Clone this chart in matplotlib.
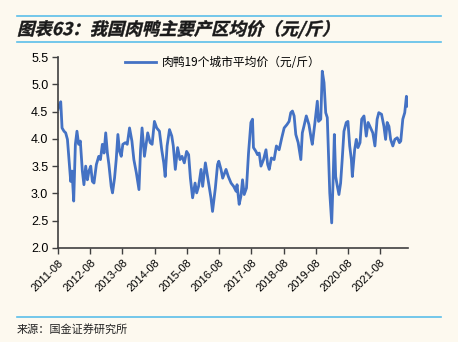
import numpy as np
import pandas as pd
import matplotlib
matplotlib.use('Agg')
import matplotlib.pyplot as plt
import matplotlib.dates as mdates
from matplotlib.textpath import TextPath
from matplotlib.patches import PathPatch
from matplotlib.font_manager import FontProperties
from matplotlib.transforms import Affine2D

plt.rcParams['font.family'] = ['Liberation Sans', 'Noto Sans CJK SC', 'DejaVu Sans']

# 肉鸭19个城市平均价 (元/斤)
dates = ['2011-08-01', '2011-08-09', '2011-09-01', '2011-09-16', '2011-10-08', '2011-10-27',
         '2011-11-16', '2011-12-11', '2011-12-23', '2012-01-07', '2012-01-26', '2012-02-14',
         '2012-03-03', '2012-03-22', '2012-04-10', '2012-05-03', '2012-05-21', '2012-06-10',
         '2012-06-29', '2012-07-17', '2012-08-06', '2012-08-25', '2012-09-12', '2012-10-09',
         '2012-11-05', '2012-11-24', '2012-12-16', '2013-01-04', '2013-01-23', '2013-02-11',
         '2013-02-28', '2013-03-26', '2013-04-10', '2013-05-03', '2013-05-22', '2013-06-10',
         '2013-06-29', '2013-07-18', '2013-08-05', '2013-09-02', '2013-09-24', '2013-10-20',
         '2013-11-16', '2013-12-08', '2014-01-05', '2014-02-04', '2014-02-22', '2014-03-11',
         '2014-04-07', '2014-04-26', '2014-05-14', '2014-06-11', '2014-07-03', '2014-07-29',
         '2014-08-24', '2014-09-24', '2014-10-20', '2014-11-12', '2014-11-28', '2014-12-20',
         '2015-01-16', '2015-02-11', '2015-02-28', '2015-03-23', '2015-04-18', '2015-05-15',
         '2015-06-07', '2015-07-03', '2015-07-29', '2015-08-21', '2015-09-10', '2015-10-05',
         '2015-11-02', '2015-11-20', '2015-12-12', '2016-01-09', '2016-01-27', '2016-02-27',
         '2016-03-23', '2016-04-12', '2016-04-30', '2016-05-18', '2016-06-19', '2016-07-14',
         '2016-07-28', '2016-08-22', '2016-09-10', '2016-10-18', '2016-11-13', '2016-12-14',
         '2017-01-12', '2017-02-09', '2017-02-20', '2017-03-16', '2017-04-05', '2017-04-23',
         '2017-05-12', '2017-06-07', '2017-06-30', '2017-07-27', '2017-08-14', '2017-08-25',
         '2017-09-22', '2017-10-10', '2017-10-29', '2017-11-18', '2017-12-17', '2018-01-14',
         '2018-02-02', '2018-02-20', '2018-03-16', '2018-04-16', '2018-05-12', '2018-06-12',
         '2018-07-12', '2018-08-08', '2018-09-08', '2018-10-03', '2018-10-22', '2018-11-10',
         '2018-11-29', '2018-12-18', '2019-01-14', '2019-02-13', '2019-03-02', '2019-03-20',
         '2019-04-16', '2019-05-16', '2019-06-12', '2019-06-23', '2019-07-23', '2019-08-19',
         '2019-09-02', '2019-09-27', '2019-10-14', '2019-11-03', '2019-11-22', '2019-12-10',
         '2019-12-29', '2020-01-07', '2020-01-29', '2020-02-13', '2020-02-28', '2020-03-14',
         '2020-04-02', '2020-04-20', '2020-05-09', '2020-05-27', '2020-06-16', '2020-07-12',
         '2020-07-31', '2020-08-20', '2020-09-08', '2020-09-19', '2020-10-15', '2020-11-03',
         '2020-11-22', '2020-12-15', '2021-01-03', '2021-01-29', '2021-02-24', '2021-03-17',
         '2021-04-14', '2021-05-09', '2021-06-02', '2021-06-27', '2021-07-16', '2021-08-16',
         '2021-09-12', '2021-10-01', '2021-10-19', '2021-11-08', '2021-11-27', '2021-12-22',
         '2022-01-14', '2022-02-10', '2022-03-07', '2022-03-22', '2022-04-14', '2022-05-06',
         '2022-05-25', '2022-06-10']
price = [4.54, 4.60, 4.68, 4.20, 4.14, 4.11,
         3.99, 3.47, 3.22, 3.41, 2.86, 3.90,
         4.14, 3.90, 3.96, 3.41, 3.16, 3.50,
         3.25, 3.41, 3.50, 3.22, 3.19, 3.53,
         3.68, 3.62, 3.90, 3.74, 4.11, 3.74,
         3.53, 3.13, 3.01, 3.28, 3.62, 4.08,
         3.77, 3.68, 3.90, 3.93, 3.90, 4.20,
         3.96, 3.62, 3.38, 3.07, 3.80, 4.20,
         3.68, 3.90, 4.11, 3.93, 3.90, 4.32,
         4.20, 4.14, 3.80, 3.56, 3.31, 3.87,
         4.17, 4.05, 3.87, 3.44, 3.84, 3.62,
         3.68, 3.56, 3.77, 3.71, 3.28, 2.92,
         3.19, 3.01, 3.13, 3.44, 3.13, 3.56,
         3.31, 3.10, 2.92, 2.67, 3.10, 3.53,
         3.59, 3.44, 3.28, 3.44, 3.31, 3.19,
         3.13, 3.04, 3.16, 2.80, 2.95, 3.25,
         2.98, 3.10, 3.74, 4.30, 4.36, 3.84,
         3.77, 3.71, 3.74, 3.50, 3.62, 3.80,
         3.53, 3.44, 3.65, 3.62, 3.87, 3.80,
         4.02, 4.20, 4.26, 4.32, 4.48, 4.51,
         4.42, 4.08, 3.93, 3.62, 4.11, 4.23,
         4.42, 4.26, 3.99, 3.90, 4.30, 4.69,
         4.32, 4.36, 5.24, 5.03, 4.48, 4.39,
         3.44, 3.01, 2.46, 3.19, 4.08, 3.31,
         3.13, 2.98, 3.19, 3.62, 4.14, 4.30,
         4.32, 3.87, 3.62, 3.31, 3.80, 3.99,
         3.84, 3.93, 4.36, 4.42, 4.05, 4.30,
         4.20, 4.11, 3.87, 4.36, 4.48, 4.45,
         4.23, 3.99, 4.30, 4.23, 3.99, 3.87,
         3.99, 4.02, 3.93, 3.96, 4.36, 4.48,
         4.78, 4.60]

series_name = '肉鸭19个城市平均价（元/斤）'
title = '图表63：我国肉鸭主要产区均价（元/斤）'
source = '来源：国金证券研究所'
yticks = [2.0, 2.5, 3.0, 3.5, 4.0, 4.5, 5.0, 5.5]
xticks = pd.date_range('2011-08-01', '2021-08-01', freq='12MS')

bg = '#fdf9ef'
blue = '#4472c4'
rule = '#5bbfea'

W, H = 458, 342
fig = plt.figure(figsize=(W / 100, H / 100), dpi=100, facecolor=bg)
ax = fig.add_axes([58 / W, 1 - 248 / H, 350 / W, 191 / H], facecolor=bg)

ax.plot(pd.to_datetime(dates), price, color=blue, lw=2.0, label=series_name)

ax.set_ylim(2.0, 5.5)
ax.set_yticks(yticks)
ax.set_yticklabels([f'{v:.1f}' for v in yticks], fontsize=9)
ax.set_xlim(pd.Timestamp('2011-08-01'), pd.Timestamp('2022-06-12'))
ax.set_xticks(xticks)
ax.xaxis.set_major_formatter(mdates.DateFormatter('%Y-%m'))
for lab in ax.get_xticklabels():
    lab.set_rotation(45)
    lab.set_ha('right')
    lab.set_rotation_mode('anchor')
    lab.set_fontsize(8)
ax.tick_params(axis='both', direction='out', length=4, width=1, color='#404040', pad=3)
for s in ['top', 'right']:
    ax.spines[s].set_visible(False)
for s in ['left', 'bottom']:
    ax.spines[s].set_color('#404040')
    ax.spines[s].set_linewidth(1.2)

leg = ax.legend(loc='center', bbox_to_anchor=(0.47, 0.969), frameon=False,
                handlelength=2.7, handletextpad=0.45,
                prop=FontProperties(family=['Noto Sans CJK SC', 'DejaVu Sans'], size=8.5))

# header and footer rules
for y in (16, 42, 317):
    fig.add_artist(plt.Line2D([17 / W, 441 / W], [1 - y / H, 1 - y / H],
                              transform=fig.transFigure, color=rule, lw=1.2))

# slanted bold title
fp = FontProperties(family='Noto Sans CJK SC', weight='bold')
tp = TextPath((0, 0), title, size=12.5, prop=fp)
tr = Affine2D().skew_deg(14, 0).scale(1 / 72).translate(17 / 100, (H - 35) / 100) + fig.dpi_scale_trans
fig.add_artist(PathPatch(tp, transform=tr, color='#1a1a1a', lw=0.3))

fig.text(17 / W, 1 - 329 / H, source, fontsize=8, va='center', ha='left',
         family=['Noto Sans CJK SC', 'DejaVu Sans'], color='#222222')

fig.savefig('out.png', dpi=100, facecolor=bg)
